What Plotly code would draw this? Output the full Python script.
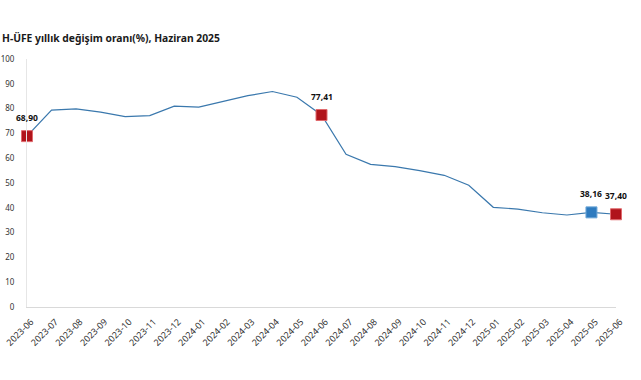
import plotly.graph_objects as go

months = ["2023-06", "2023-07", "2023-08", "2023-09", "2023-10", "2023-11", "2023-12",
          "2024-01", "2024-02", "2024-03", "2024-04", "2024-05", "2024-06", "2024-07",
          "2024-08", "2024-09", "2024-10", "2024-11", "2024-12", "2025-01", "2025-02",
          "2025-03", "2025-04", "2025-05", "2025-06"]
values = [68.90, 79.4, 79.9, 78.6, 76.8, 77.2, 81.0, 80.6, 82.9, 85.2, 86.9, 84.6, 77.41,
          61.6, 57.5, 56.6, 55.0, 53.1, 49.1, 40.2, 39.5, 38.0, 37.1, 38.16, 37.40]

highlight_months = ["2023-06", "2024-06", "2025-05", "2025-06"]
highlight_values = [68.90, 77.41, 38.16, 37.40]
highlight_colors = ["#B0141B", "#B0141B", "#2E7BBF", "#B0141B"]
highlight_borders = ["#E06A6E", "#E06A6E", "#6FA8D8", "#E06A6E"]

title = "H-ÜFE yıllık değişim oranı(%), Haziran 2025"
font_family = "Noto Sans, Open Sans, sans-serif"

fig = go.Figure()
fig.add_trace(go.Scatter(
    x=months, y=values, mode="lines",
    line=dict(color="#3A78AD", width=1.2),
    hoverinfo="skip", cliponaxis=False,
))
fig.add_trace(go.Scatter(
    x=highlight_months, y=highlight_values, mode="markers",
    marker=dict(symbol="square", size=11, color=highlight_colors,
                line=dict(color=highlight_borders, width=1)),
    cliponaxis=False,
))
for m, v in zip(highlight_months, highlight_values):
    fig.add_annotation(x=m, y=v, text="<b>" + f"{v:.2f}".replace(".", ",") + "</b>",
                       showarrow=False, yshift=19,
                       font=dict(size=8.5, color="#111111", family=font_family))

fig.add_annotation(xref="paper", yref="paper", x=-27 / 589, y=1 + 21.5 / 248,
                   xanchor="left", yanchor="middle", showarrow=False,
                   text="<b>" + title + "</b>",
                   font=dict(size=10.3, color="#1A1A1A", family=font_family))

fig.update_layout(
    width=641, height=380,
    margin=dict(l=27, r=25, t=59, b=73, autoexpand=False),
    paper_bgcolor="white", plot_bgcolor="white",
    showlegend=False,
    font=dict(family=font_family, size=9, color="#404040"),
)

fig.update_xaxes(
    type="category", range=[0, 24], tickangle=-45, automargin=False,
    showgrid=False, showline=True, linecolor="#D9D9D9", linewidth=1,
    ticks="", zeroline=False, ticklabelstandoff=5, ticklabelshift=4,
    tickfont=dict(size=9, color="#333333"),
)
fig.update_yaxes(
    range=[0, 100], dtick=10, tick0=0, automargin=False,
    showgrid=False, showline=True, linecolor="#E6E6E6", linewidth=1,
    ticks="", zeroline=False, ticklabelstandoff=10,
    tickfont=dict(size=8, color="#333333"),
)

fig.write_html("out.html", config={"displayModeBar": False},
               post_script="document.body.style.margin='0';document.body.style.overflow='hidden';")
